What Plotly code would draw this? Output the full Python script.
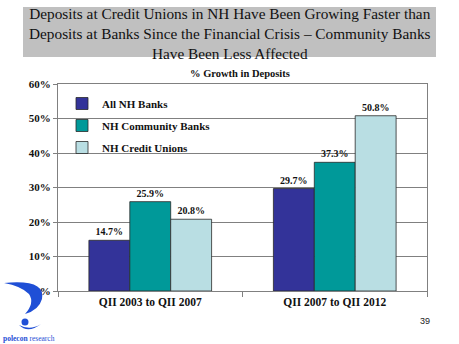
import plotly.graph_objects as go

# Deposit growth by institution type over two periods
periods = ["QII 2003 to QII 2007", "QII 2007 to QII 2012"]
series_names = ["All NH Banks", "NH Community Banks", "NH Credit Unions"]
all_nh_banks = [14.7, 29.7]
nh_community_banks = [25.9, 37.3]
nh_credit_unions = [20.8, 50.8]
y_ticks = [0, 10, 20, 30, 40, 50, 60]
title_lines = [
    "Deposits at Credit Unions in NH Have Been Growing Faster than",
    "Deposits at Banks Since the Financial Crisis \u2013 Community Banks",
    "Have Been Less Affected",
]

colors = ["#333399", "#009999", "#B9DEE3"]
series_values = [all_nh_banks, nh_community_banks, nh_credit_unions]

W, H = 459, 344
ML, MR, MT, MB = 58, 32, 84, 53
PW, PH = W - ML - MR, H - MT - MB


def px(x, y):
    """Pixel position on the page -> paper coordinates."""
    return (x - ML) / PW, (H - MB - y) / PH


serif = "Liberation Serif"

fig = go.Figure()
for i, (name, vals) in enumerate(zip(series_names, series_values)):
    fig.add_trace(go.Bar(
        x=periods, y=vals, name=name,
        legendgroup=f"g{i}",
        marker=dict(color=colors[i], line=dict(color="#2a2a2a", width=0.8)),
        text=[f"<b>{v:.1f}%</b>" for v in vals],
        textposition="outside",
        textfont=dict(family=serif, size=10, color="#111"),
        cliponaxis=False,
    ))

shapes = []
annotations = []

# grey title banner
x0, y0 = px(23, 7)
x1, y1 = px(436, 57)
shapes.append(dict(type="rect", xref="paper", yref="paper", x0=x0, y0=y1, x1=x1, y1=y0,
                   fillcolor="#C0C0C0", line=dict(width=0), layer="below"))
tx, ty = px(229.5, 33)
annotations.append(dict(
    xref="paper", yref="paper", x=tx, y=ty, xanchor="center", yanchor="middle",
    text="<br>".join(title_lines), showarrow=False,
    font=dict(family=serif, size=15.3, color="#111"), align="center"))

sx, sy = px(240, 73)
annotations.append(dict(
    xref="paper", yref="paper", x=sx, y=sy, xanchor="center", yanchor="middle",
    text="<b>% Growth in Deposits</b>", showarrow=False,
    font=dict(family=serif, size=10.5, color="#111")))

nx, ny = px(425, 321)
annotations.append(dict(
    xref="paper", yref="paper", x=nx, y=ny, xanchor="center", yanchor="middle",
    text="39", showarrow=False, font=dict(family="Liberation Sans", size=9, color="#222")))

# logo mark
logo_blue = "#1f4fd6"


def path(points_cmds):
    out = []
    for cmd, pts in points_cmds:
        coords = " ".join(f"{px(x, y)[0]:.4f},{px(x, y)[1]:.4f}" for x, y in pts)
        out.append(f"{cmd} {coords}")
    return " ".join(out) + " Z"


crescent = path([
    ("M", [(4, 283)]),
    ("Q", [(46, 279), (42, 299)]),
    ("Q", [(39, 310), (25, 314)]),
    ("Q", [(35, 303), (29, 294)]),
    ("Q", [(21, 286), (4, 283)]),
])
shapes.append(dict(type="path", xref="paper", yref="paper", path=crescent,
                   fillcolor=logo_blue, line=dict(width=0)))
cx0, cy0 = px(21.5, 318.5)
cx1, cy1 = px(28.5, 325.5)
shapes.append(dict(type="circle", xref="paper", yref="paper", x0=cx0, y0=cy1, x1=cx1, y1=cy0,
                   fillcolor=logo_blue, line=dict(width=0)))
under = path([
    ("M", [(19, 325)]),
    ("Q", [(28, 334), (41, 324)]),
    ("Q", [(30, 331), (19, 325)]),
])
shapes.append(dict(type="path", xref="paper", yref="paper", path=under,
                   fillcolor=logo_blue, line=dict(width=0)))
lx, ly = px(1, 338)
annotations.append(dict(
    xref="paper", yref="paper", x=lx, y=ly, xanchor="left", yanchor="middle",
    text="<b>polecon</b> research", showarrow=False,
    font=dict(family="Liberation Sans Narrow", size=7.5, color=logo_blue)))

legx, legy = px(62, 89)

fig.update_layout(
    width=W, height=H,
    margin=dict(l=ML, r=MR, t=MT, b=MB, pad=0),
    paper_bgcolor="white", plot_bgcolor="white",
    barmode="group", bargap=0.335, bargroupgap=0,
    showlegend=True,
    legend=dict(x=legx, y=legy, xanchor="left", yanchor="top",
                font=dict(family=serif, size=11, color="#111", weight="bold"),
                traceorder="grouped", tracegroupgap=3,
                bgcolor="rgba(0,0,0,0)", itemwidth=30),
    xaxis=dict(showline=True, linecolor="#808080", linewidth=1, mirror=True,
               ticks="outside", tickson="boundaries", ticklen=5, tickcolor="#808080",
               tickfont=dict(family=serif, size=11.5, color="#111"),
               showgrid=False),
    yaxis=dict(range=[0, 60], tickvals=y_ticks, ticktext=[f"<b>{v}%</b>" for v in y_ticks],
               showline=True, linecolor="#808080", linewidth=1, mirror=True,
               ticks="outside", ticklen=4, tickcolor="#808080",
               showgrid=True, gridcolor="#808080", gridwidth=1,
               tickfont=dict(family=serif, size=11, color="#111"),
               zeroline=False),
    shapes=shapes, annotations=annotations,
)
fig.update_xaxes(ticktext=[f"<b>{p}</b>" for p in periods], tickvals=periods)

fig.write_html("out.html")
